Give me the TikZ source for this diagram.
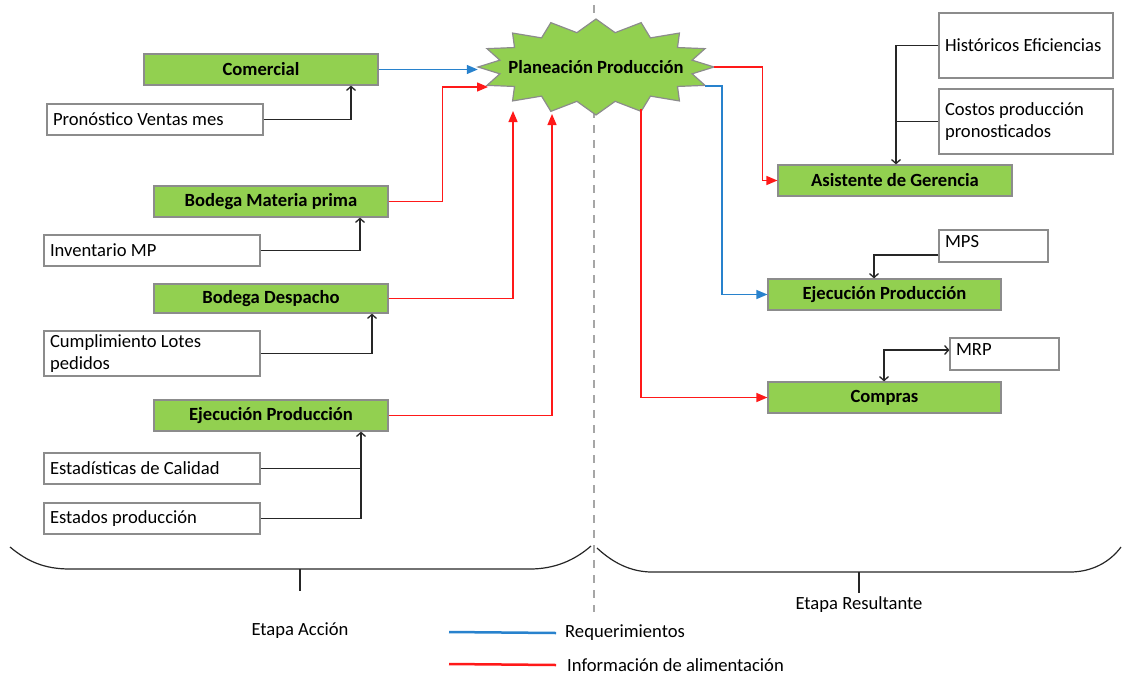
\documentclass[tikz,border=0pt]{standalone}
\usepackage{fontspec}
\setmainfont{Carlito}
\usetikzlibrary{arrows.meta}
\definecolor{boxgreen}{HTML}{92D050}
\definecolor{edgegray}{HTML}{8C8C8C}
\definecolor{linkred}{RGB}{255,25,25}
\definecolor{linkblue}{RGB}{40,130,205}
\definecolor{inkdark}{HTML}{262626}
\definecolor{splitgray}{HTML}{A6A6A6}
\begin{document}
\begin{tikzpicture}[x=1pt,y=-1pt,
  every node/.style={font=\fontsize{18.6}{22}\selectfont, text=black},
  gbox/.style={draw=edgegray, line width=1.2pt, fill=boxgreen,
    minimum width=234pt, minimum height=31pt, inner sep=0pt,
    font=\fontsize{18.6}{22}\selectfont\bfseries},
  wbox/.style={draw=edgegray, line width=1.2pt, fill=white,
    minimum height=31pt, inner xsep=6pt, inner ysep=0pt, align=left,
    execute at begin node={\spaceskip=0pt\xspaceskip=0pt\relax}},
  feed/.style={draw=inkdark, line width=1.3pt, -{Straight Barb[length=4pt,width=9pt]}},
  info/.style={draw=linkred, line width=1.3pt, -{Triangle[length=11pt,width=9pt]}},
  req/.style={draw=linkblue, line width=1.3pt, -{Triangle[length=11pt,width=9pt]}},
  brace/.style={draw=inkdark, line width=1.2pt},
]
\path[use as bounding box] (0,0) rectangle (1123,677);

% dividing line between the two stages
\draw[splitgray, line width=1.2pt, dash pattern=on 8pt off 7pt] (594,5) -- (594,612);

% central star
\begin{scope}[shift={(596,67)}]
  \draw[edgegray, line width=1.2pt, fill=boxgreen]
    plot[samples at={0,...,31}] ({cos(\x*11.25)*(108+10*cos(\x*180))},{sin(\x*11.25)*(41.5+6.5*cos(\x*180))}) -- cycle;
\end{scope}
\node[minimum width=236pt, minimum height=96pt, inner sep=0pt,
  font=\fontsize{18.6}{22}\selectfont\bfseries] (plan) at (596,67) {Planeación Producción};
\coordinate (in1) at (488,87);
\coordinate (in2) at (513,111);
\coordinate (in3) at (552,114);
\coordinate (out2) at (705,86);
\coordinate (out3) at (641,109);

% action stage
\node[gbox] (com) at (261,69.5) {Comercial};
\node[wbox, text width=204pt] (pron) at (155,119.5) {Pronóstico Ventas mes};
\node[gbox] (bmp) at (271,201.5) {Bodega Materia prima};
\node[wbox, text width=204pt] (inv) at (152,250.5) {Inventario MP};
\node[gbox, minimum height=29pt] (bdes) at (271,298.5) {Bodega Despacho};
\node[wbox, text width=204pt, minimum height=45pt] (cump) at (152,353.5) {Cumplimiento Lotes\\pedidos};
\node[gbox] (ejl) at (271,415.5) {Ejecución Producción};
\node[wbox, text width=204pt] (est) at (152,468.5) {Estadísticas de Calidad};
\node[wbox, text width=204pt] (edo) at (152,518.5) {Estados producción};

% resulting stage
\node[wbox, text width=162pt, minimum height=65pt] (hist) at (1026,45.5) {Históricos Eficiencias};
\node[wbox, text width=162pt, minimum height=65pt] (cost) at (1026,121.5) {Costos producción\\pronosticados};
\node[gbox] (asis) at (895,180.5) {Asistente de Gerencia};
\node[wbox, text width=97pt, minimum height=32pt, text depth=10pt] (mps) at (993.5,246) {MPS};
\node[gbox, minimum width=233pt] (ejr) at (884.5,294.5) {Ejecución Producción};
\node[wbox, text width=97pt, minimum height=32pt, text depth=8pt] (mrp) at (1004.5,354) {MRP};
\node[gbox, minimum width=233pt] (comp) at (884.5,397.5) {Compras};

% inputs of each area
\draw[feed] (pron.east) -| ([xshift=90pt]com.south);
\draw[feed] (inv.east) -| ([xshift=89pt]bmp.south);
\draw[feed] (cump.east) -| ([xshift=101pt]bdes.south);
\coordinate (ejin) at ([xshift=90pt]ejl.south);
\draw[feed, -] (est.east) -- (est.east -| ejin);
\draw[feed] (edo.east) -| (ejin);
\coordinate (asin) at ([xshift=1pt]asis.north);
\draw[feed] (hist.west) -| (asin);
\draw[feed, -] (cost.west) -- (cost.west -| asin);
\draw[feed] ([yshift=-9pt]mps.west) -| ([xshift=-10.5pt]ejr.north);
\draw[feed, {Straight Barb[length=4pt,width=9pt]}-{Straight Barb[length=4pt,width=9pt]}]
  ([yshift=4pt]mrp.west) -| ([xshift=-0.5pt]comp.north);

% flows to and from planning
\draw[req] (com.east) -- (com.east -| plan.west);
\draw[info] (bmp.east) -- ++(54,0) |- (in1);
\draw[info] (bdes.east) -| (in2);
\draw[info] (ejl.east) -| (in3);
\draw[info] (plan.east) -- ++(48,0) |- (asis.west);
\draw[req] (out2) -- ++(17,0) |- (ejr.west);
\draw[info] (out3) |- (comp.west);

% stage braces
\draw[brace] (10,547) .. controls (28,562) and (45,569) .. (70,569) -- (530,569)
  .. controls (555,569) and (575,560) .. (591,546);
\draw[brace] (300,569) -- (300,591);
\node (etA) at (300,631) {Etapa Acción};
\draw[brace] (597,548) .. controls (612,562) and (630,572) .. (652,572) -- (1070,572)
  .. controls (1092,572) and (1110,562) .. (1121,547);
\draw[brace] (859,572) -- (859,593);
\node (etR) at (859,605) {Etapa Resultante};

% legend
\node[anchor=west, inner sep=0pt] (lgb) at (565,633) {Requerimientos};
\draw[linkblue, line width=2.5pt] (449,632) -- ([xshift=-9pt]lgb.west);
\node[anchor=west, inner sep=0pt] (lgr) at (567,665) {Información de alimentación};
\draw[linkred, line width=2.5pt] (449,664) -- ([xshift=-11pt]lgr.west);
\end{tikzpicture}
\end{document}
